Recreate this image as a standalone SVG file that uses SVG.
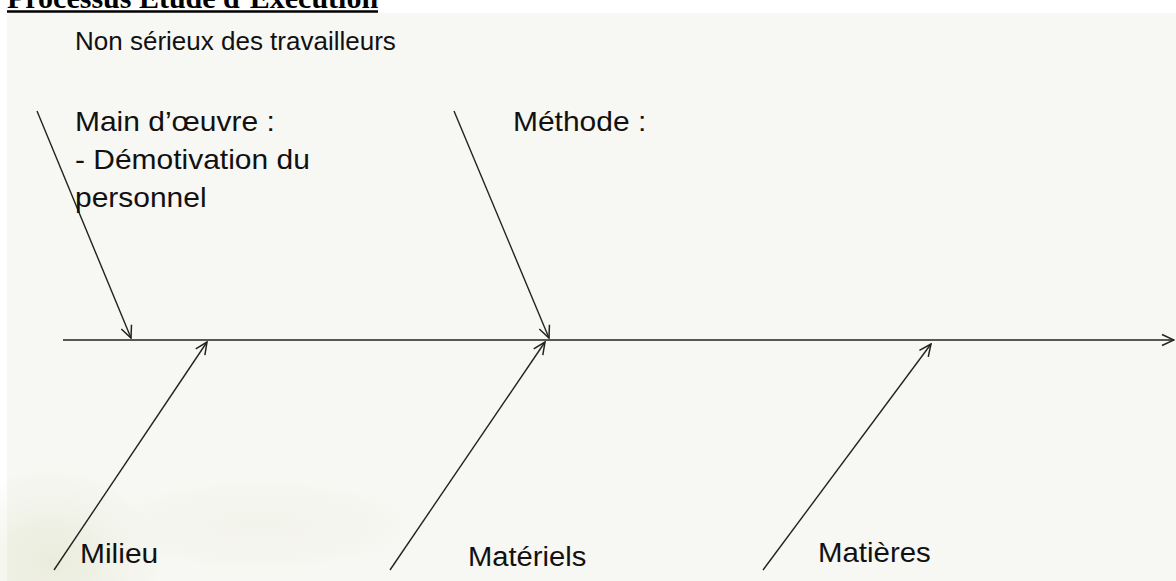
<svg xmlns="http://www.w3.org/2000/svg" width="1176" height="581" viewBox="0 0 1176 581">
  <style>
    .title { font-family: "Liberation Serif", "Times New Roman", serif; font-weight: bold; font-size: 30px; fill: #000; }
    .lbl { font-family: "Liberation Sans", Arial, sans-serif; font-size: 27px; fill: #111; }
    .ln { stroke: #222; stroke-width: 1.4; fill: none; }
  </style>
  <defs>
    <marker id="ah" markerWidth="14" markerHeight="14" refX="13" refY="7" orient="auto" markerUnits="userSpaceOnUse">
      <path d="M1,1.5 L13,7 L1,12.5" fill="none" stroke="#222" stroke-width="1.5"/>
    </marker>
    <radialGradient id="tex" cx="0.5" cy="0.5" r="0.5">
      <stop offset="0" stop-color="#dfe3c8" stop-opacity="0.55"/>
      <stop offset="1" stop-color="#dfe3c8" stop-opacity="0"/>
    </radialGradient>
  </defs>
  <rect x="0" y="0" width="1176" height="581" fill="#ffffff"/>
  <rect x="7" y="13" width="1169" height="568" fill="#f7f7f3"/>
  <ellipse cx="50" cy="560" rx="110" ry="90" fill="url(#tex)"/>
  <ellipse cx="260" cy="525" rx="150" ry="45" fill="url(#tex)" opacity="0.4"/>

  <g id="title">
    <text class="title" x="7" y="8">Processus Etude d’Exécution</text>
    <line x1="7" y1="11.5" x2="378" y2="11.5" stroke="#000" stroke-width="2.5"/>
  </g>

  <g id="connectors">
    <line id="axis" class="ln" x1="63" y1="340" x2="1174" y2="340" marker-end="url(#ah)"/>
    <line class="ln" x1="37" y1="111" x2="131" y2="338" marker-end="url(#ah)"/>
    <line class="ln" x1="454" y1="111" x2="549" y2="338" marker-end="url(#ah)"/>
    <line class="ln" x1="54" y1="570" x2="207" y2="342" marker-end="url(#ah)"/>
    <line class="ln" x1="390" y1="570" x2="545" y2="342" marker-end="url(#ah)"/>
    <line class="ln" x1="763" y1="570" x2="931" y2="344" marker-end="url(#ah)"/>
  </g>

  <g id="node-non-serieux">
    <text class="lbl" x="75" y="50" style="font-size:26px">Non sérieux des travailleurs</text>
  </g>
  <g id="node-main-oeuvre">
    <text class="lbl" transform="translate(75,131) scale(1.11,1)">Main d’œuvre :</text>
    <text class="lbl" transform="translate(75,169) scale(1.11,1)">- Démotivation du</text>
    <text class="lbl" transform="translate(75,207) scale(1.11,1)">personnel</text>
  </g>
  <g id="node-methode">
    <text class="lbl" transform="translate(513,131) scale(1.11,1)">Méthode :</text>
  </g>
  <g id="node-milieu">
    <text class="lbl" transform="translate(80,563) scale(1.11,1)">Milieu</text>
  </g>
  <g id="node-materiels">
    <text class="lbl" transform="translate(468,566) scale(1.08,1)">Matériels</text>
  </g>
  <g id="node-matieres">
    <text class="lbl" transform="translate(818,562) scale(1.09,1)">Matières</text>
  </g>
</svg>
